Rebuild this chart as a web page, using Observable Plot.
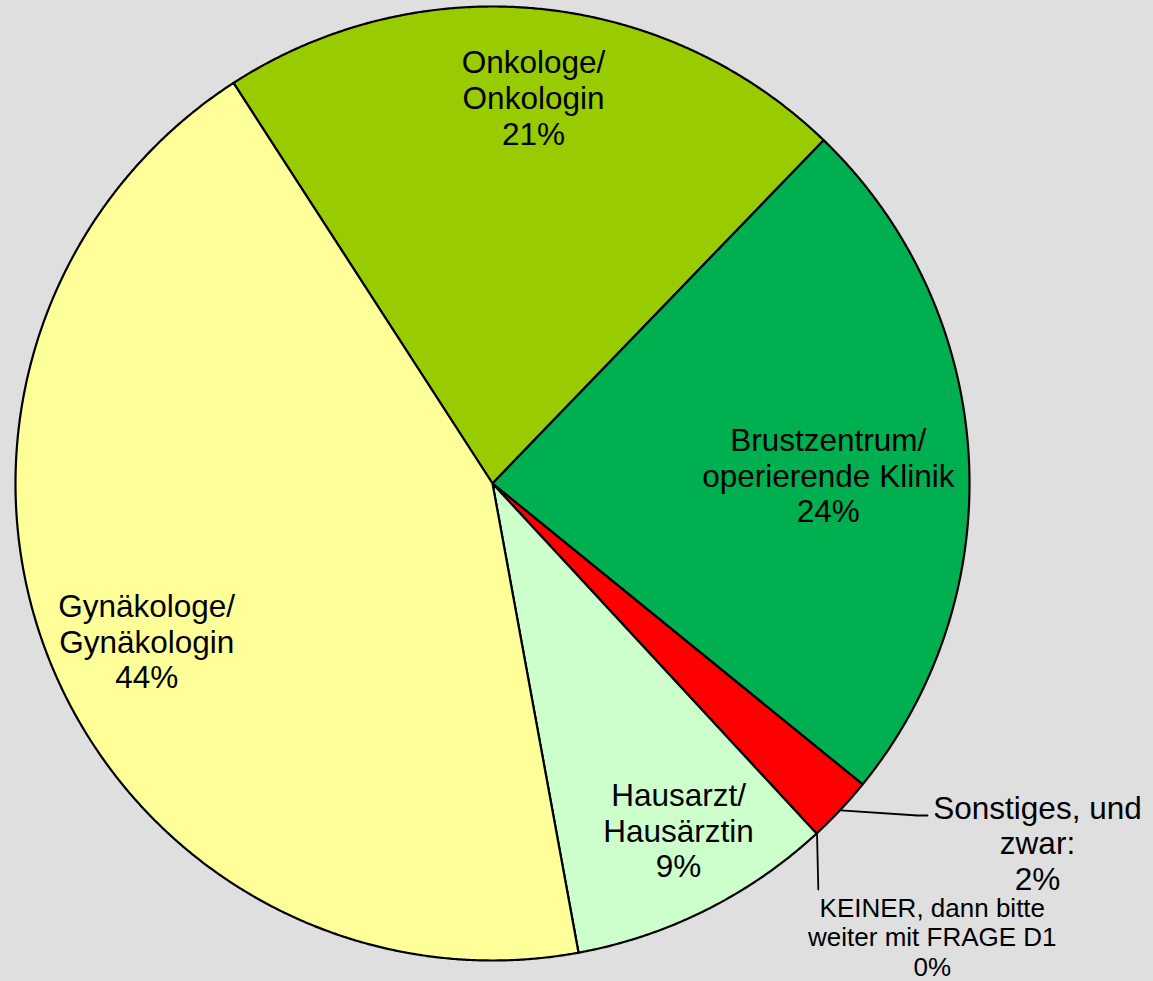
<!DOCTYPE html>
<html>
<head>
<meta charset="utf-8">
<script src="https://cdn.jsdelivr.net/npm/d3@7"></script>
<script src="https://cdn.jsdelivr.net/npm/@observablehq/plot@0.6"></script>
<style>
html, body { margin: 0; padding: 0; background: #dfdfdf; }
#chart svg { display: block; }
</style>
</head>
<body>
<div id="chart"></div>
<script>
// ---- data ----
const categories = [
  "Onkologe/\nOnkologin",
  "Brustzentrum/\noperierende Klinik",
  "Sonstiges, und\nzwar:",
  "KEINER, dann bitte\nweiter mit FRAGE D1",
  "Hausarzt/\nHausärztin",
  "Gynäkologe/\nGynäkologin"
];
const shares = [21.35, 23.65, 2.25, 0, 9.0, 43.75];   // percent
const colors = ["#99cc00", "#00b050", "#ff0000", "#ffffff", "#ccffcc", "#ffff99"];

// ---- layout (pie-radius units, centre = 0,0) ----
const startDeg = -32.89;            // first slice angle (clockwise from 12 o'clock)
const labelAt = [                    // label block centres
  [0.085, 0.810],
  [0.703, 0.018],
  [1.1415, -0.752],
  [0.921, -0.950],
  [0.389, -0.726],
  [-0.726, -0.330]
];
const smallLabel = [false, false, false, true, false, false];
const leaderBend = {2: [[0.890, -0.695], [0.911, -0.695]], 3: [[0.682, -0.850]]};

// ---- build ----
const rows = categories.map((c, i) => ({cat: c, share: shares[i], i}));
const start = startDeg * Math.PI / 180;
const arcs = d3.pie().sort(null).value(d => d.share).startAngle(start).endAngle(start + 2 * Math.PI)(rows);

const step = 0.25 * Math.PI / 180;
const arcPts = [];
for (const a of arcs) {
  if (a.endAngle <= a.startAngle) continue;
  const n = Math.max(2, Math.ceil((a.endAngle - a.startAngle) / step));
  for (let k = 0; k <= n; k++) {
    const t = a.startAngle + (a.endAngle - a.startAngle) * k / n;
    arcPts.push({cat: a.data.cat, x: Math.sin(t), y: Math.cos(t)});
  }
}

const leaders = [];
for (const a of arcs) {
  const b = leaderBend[a.data.i];
  if (!b) continue;
  const t = (a.startAngle + a.endAngle) / 2;
  leaders.push({id: a.data.i, x: Math.sin(t), y: Math.cos(t)});
  for (const p of b) leaders.push({id: a.data.i, x: p[0], y: p[1]});
}

const labels = arcs.map(a => ({
  text: a.data.cat + "\n" + Math.round(a.data.share) + "%",
  x: labelAt[a.data.i][0],
  y: labelAt[a.data.i][1],
  small: smallLabel[a.data.i]
}));

const W = 1153, H = 981;
const cx = 492.5, cy = 483.5, R = 477;

const chart = Plot.plot({
  width: W,
  height: H,
  marginLeft: cx - R,
  marginRight: W - (cx + R),
  marginTop: cy - R,
  marginBottom: H - (cy + R),
  x: {domain: [-1, 1], axis: null},
  y: {domain: [-1, 1], axis: null},
  color: {domain: categories, range: colors},
  style: {background: "transparent", fontFamily: "'Liberation Sans', Arial, sans-serif", overflow: "visible"},
  marks: [
    Plot.area(arcPts, {x1: "x", y1: "y", x2: d => 0, y2: d => 0, z: "cat", fill: "cat",
      stroke: "black", strokeWidth: 2.2, strokeLinejoin: "round"}),
    Plot.line(leaders, {x: "x", y: "y", z: "id", stroke: "black", strokeWidth: 1.8}),
    Plot.text(labels.filter(d => !d.small), {x: "x", y: "y", text: "text", fontSize: 31.5,
      lineHeight: 1.13, textAnchor: "middle", fill: "black"}),
    Plot.text(labels.filter(d => d.small), {x: "x", y: "y", text: "text", fontSize: 26,
      lineHeight: 1.12, textAnchor: "middle", fill: "black"})
  ]
});
document.getElementById("chart").appendChild(chart);
</script>
</body>
</html>
